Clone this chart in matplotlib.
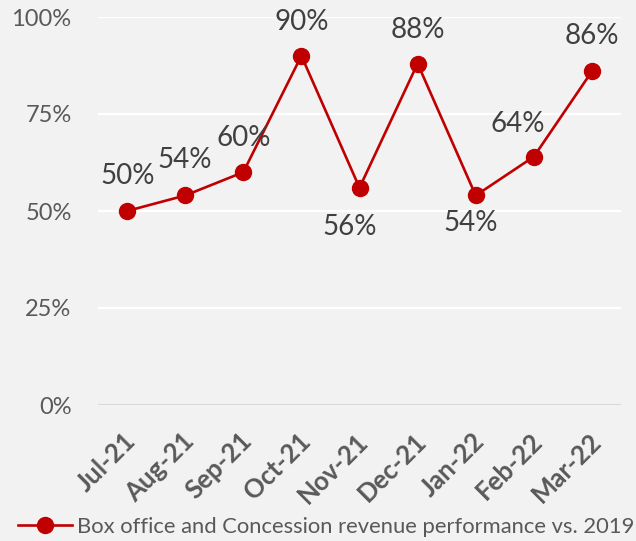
import matplotlib.pyplot as plt
import matplotlib.transforms as mtransforms
from matplotlib.ticker import FuncFormatter

months = ['Jul-21', 'Aug-21', 'Sep-21', 'Oct-21', 'Nov-21', 'Dec-21', 'Jan-22', 'Feb-22', 'Mar-22']
perf = [50, 54, 60, 90, 56, 88, 54, 64, 86]
yticks = [0, 25, 50, 75, 100]
series_name = 'Box office and Concession revenue performance vs. 2019'

# data label placement (pixel offsets of the label centre from the marker, y down)
label_offset = [(1, -37), (0, -37), (0, -36), (0, -36), (-10, 37),
                (0, -36), (-5, 26), (-16, -35), (0, -37)]

plt.rcParams['font.family'] = ['Lato', 'DejaVu Sans']
bg = '#F2F2F2'
red = '#C00000'
grey = '#595959'
dark = '#404040'

W, H = 636, 541
fig = plt.figure(figsize=(W / 100, H / 100), dpi=100, facecolor=bg)
ax = fig.add_axes([98 / W, 1 - 405 / H, 523 / W, 388 / H], facecolor=bg)

x = list(range(len(months)))
ax.plot(x, perf, color=red, lw=1.9, marker='o', ms=11.5, label=series_name)

px = 0.72  # points per pixel at 100 dpi
for xi, v, (dx, dy) in zip(x, perf, label_offset):
    ax.annotate(f'{v}%', (xi, v), xytext=(dx * px, (-dy - 10) * px),
                textcoords='offset points', ha='center', va='baseline',
                fontsize=20, color=dark)

ax.set_xlim(-0.5, len(months) - 0.5)
ax.set_ylim(0, 100)
ax.set_yticks(yticks)
ax.yaxis.set_major_formatter(FuncFormatter(lambda v, p: f'{v:.0f}%'))
ax.grid(axis='y', color='white', lw=1.6)
ax.axhline(0, color='#D9D9D9', lw=1.6)
ax.set_axisbelow(True)
for s in ax.spines.values():
    s.set_visible(False)
ax.tick_params(length=0)
ax.tick_params(axis='y', labelsize=17, labelcolor=grey, pad=19)
ax.set_xticks(x)
ax.set_xticklabels(months, rotation=45, ha='right', va='center', rotation_mode='anchor',
                   fontsize=18.5, fontweight='bold', color=grey)
ax.tick_params(axis='x', pad=23)
shift = mtransforms.ScaledTranslation(5 / 100, 0, fig.dpi_scale_trans)
for lbl in ax.get_xticklabels():
    lbl.set_transform(lbl.get_transform() + shift)

fig.legend(loc='center left', bbox_to_anchor=(18 / W, 1 - 527 / H), frameon=False,
           borderpad=0, borderaxespad=0, fontsize=15.8, labelcolor=grey,
           handlelength=2.45, handletextpad=0.25)

fig.savefig('out.png', dpi=100, facecolor=bg)
